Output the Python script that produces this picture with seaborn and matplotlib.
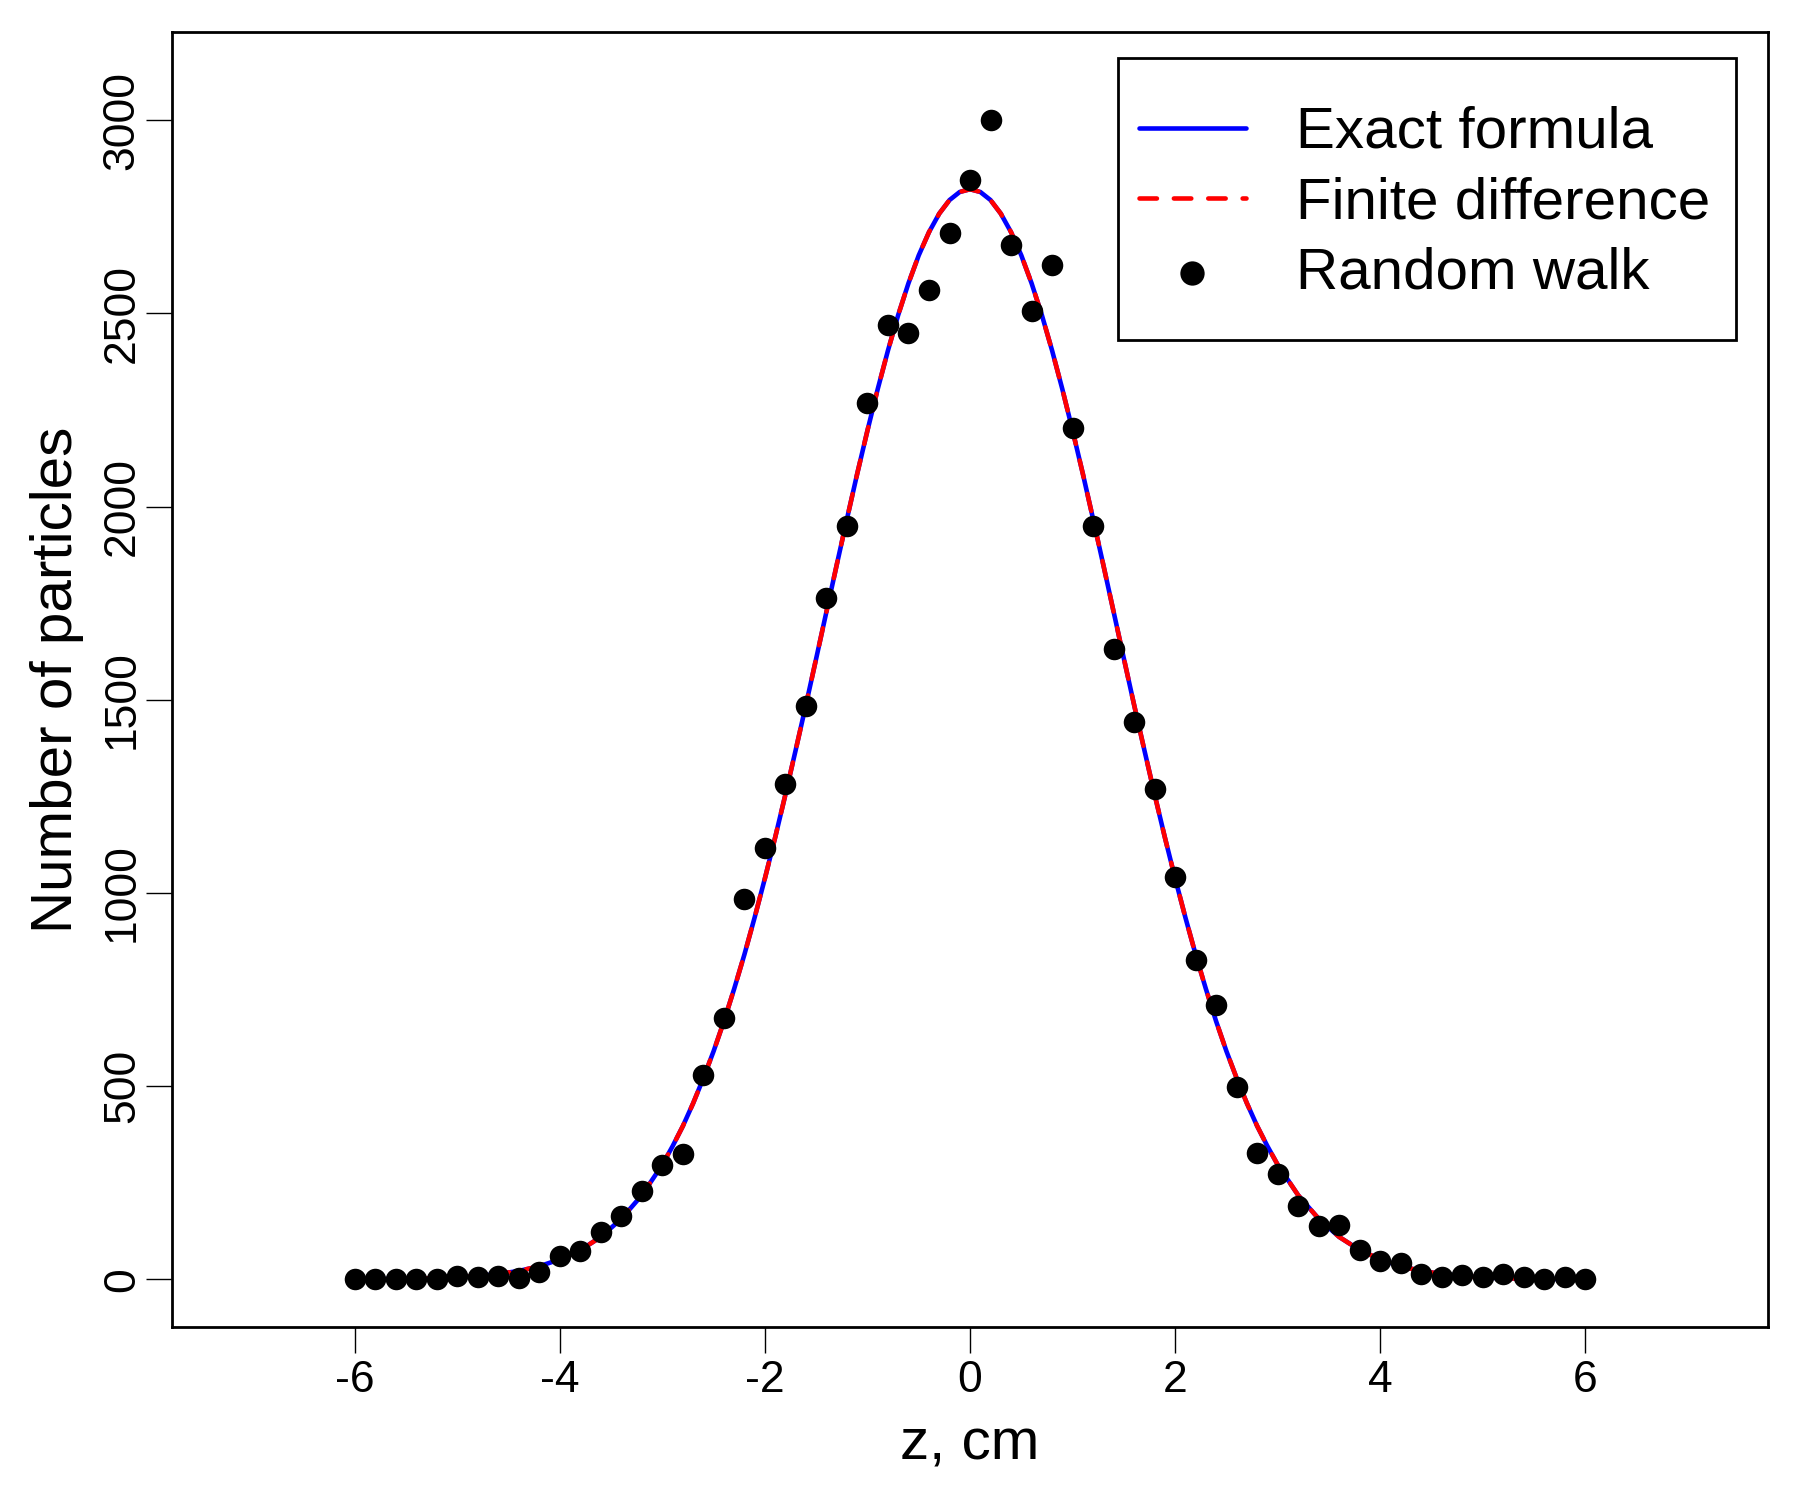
import matplotlib
matplotlib.use("Agg")
import matplotlib.pyplot as plt
import matplotlib.patches as mpatches
import seaborn as sns
import pandas as pd

# ---- data ----
walk_z = [-6.0, -5.8, -5.6, -5.4, -5.2, -5.0, -4.8, -4.6, -4.4, -4.2, -4.0,
          -3.8, -3.6, -3.4, -3.2, -3.0, -2.8, -2.6, -2.4, -2.2, -2.0,
          -1.8, -1.6, -1.4, -1.2, -1.0, -0.8, -0.6, -0.4, -0.2, 0.0,
          0.2, 0.4, 0.6, 0.8, 1.0, 1.2, 1.4, 1.6, 1.8, 2.0,
          2.2, 2.4, 2.6, 2.8, 3.0, 3.2, 3.4, 3.6, 3.8, 4.0,
          4.2, 4.4, 4.6, 4.8, 5.0, 5.2, 5.4, 5.6, 5.8, 6.0]
walk_n = [0, 0, 0, 0, 0, 9, 5, 9, 3, 18, 60,
          74, 122, 164, 229, 295, 324, 530, 676, 985, 1116,
          1283, 1485, 1762, 1949, 2268, 2470, 2449, 2559, 2708, 2845,
          3000, 2678, 2506, 2625, 2202, 1949, 1631, 1443, 1268, 1042,
          827, 711, 497, 327, 274, 190, 137, 140, 77, 48,
          42, 15, 6, 12, 6, 15, 6, 0, 6, 0]

curve_z = [-6.0, -5.8, -5.6, -5.4, -5.2, -5.0, -4.8, -4.6, -4.4, -4.2, -4.0,
           -3.8, -3.6, -3.4, -3.2, -3.0, -2.9, -2.8, -2.7, -2.6, -2.5, -2.4,
           -2.3, -2.2, -2.1, -2.0, -1.9, -1.8, -1.7, -1.6, -1.5, -1.4, -1.3,
           -1.2, -1.1, -1.0, -0.9, -0.8, -0.7, -0.6, -0.5, -0.4, -0.3, -0.2,
           -0.1, 0.0, 0.1, 0.2, 0.3, 0.4, 0.5, 0.6, 0.7, 0.8, 0.9, 1.0,
           1.1, 1.2, 1.3, 1.4, 1.5, 1.6, 1.7, 1.8, 1.9, 2.0, 2.1, 2.2,
           2.3, 2.4, 2.5, 2.6, 2.7, 2.8, 2.9, 3.0, 3.2, 3.4, 3.6, 3.8,
           4.0, 4.2, 4.4, 4.6, 4.8, 5.0, 5.2, 5.4, 5.6, 5.8, 6.0]
exact_n = [0, 1, 1, 2, 3, 5, 9, 14, 22, 34, 52,
           76, 110, 157, 218, 297, 345, 397, 456, 521, 591, 668,
           752, 841, 937, 1038, 1144, 1255, 1370, 1487, 1607, 1728, 1849,
           1968, 2085, 2197, 2304, 2404, 2496, 2578, 2650, 2710, 2758, 2793,
           2814, 2821, 2814, 2793, 2758, 2710, 2650, 2578, 2496, 2404, 2304, 2197,
           2085, 1968, 1849, 1728, 1607, 1487, 1370, 1255, 1144, 1038, 937, 841,
           752, 668, 591, 521, 456, 397, 345, 297, 218, 157, 110, 76,
           52, 34, 22, 14, 9, 5, 3, 2, 1, 1, 0]
fd_n = list(exact_n)

x_ticks = [-6, -4, -2, 0, 2, 4, 6]
y_ticks = [0, 500, 1000, 1500, 2000, 2500, 3000]

sns.set_theme(style="ticks")
plt.rcParams['font.family'] = ['Liberation Sans', 'DejaVu Sans']
plt.rcParams.update({"text.color": "black", "axes.labelcolor": "black",
                     "xtick.color": "black", "ytick.color": "black",
                     "axes.edgecolor": "black"})

fig = plt.figure(figsize=(18, 15), dpi=100)
ax = fig.add_axes([0.0957, 0.1151, 0.9821 - 0.0957, 0.9787 - 0.1151])

df_curve = pd.DataFrame({"z": curve_z, "exact": exact_n, "fd": fd_n})
df_walk = pd.DataFrame({"z": walk_z, "n": walk_n})

LW = 3.3
sns.lineplot(data=df_curve, x="z", y="exact", ax=ax, color="blue", linewidth=LW,
             solid_capstyle="round", solid_joinstyle="round",
             label="Exact formula", sort=False)
sns.lineplot(data=df_curve, x="z", y="fd", ax=ax, color="red", linewidth=LW,
             linestyle=(0, (3.8, 3.7)), dash_capstyle="round",
             label="Finite difference", sort=False)
sns.scatterplot(data=df_walk, x="z", y="n", ax=ax, color="black", s=15.5**2,
                linewidth=0, label="Random walk", zorder=5)

ax.set_xlim(-7.78, 7.78)
ax.set_ylim(-124, 3228)
ax.set_xticks(x_ticks)
ax.set_xticklabels([str(v) for v in x_ticks])
ax.set_yticks(y_ticks)
ax.set_yticklabels([str(v) for v in y_ticks], rotation=90, va="center")

for sp in ax.spines.values():
    sp.set_visible(True)
    sp.set_linewidth(2.0)
    sp.set_color("black")

ax.tick_params(axis="both", direction="out", length=18.7, width=1.0,
               labelsize=32, colors="black")
ax.tick_params(axis="x", pad=5.0)
ax.tick_params(axis="y", pad=2.5)

ax.set_xlabel("z, cm", fontsize=42, labelpad=12)
ax.set_ylabel("Number of particles", fontsize=42, labelpad=12.7)

# legend (frame drawn separately to match the box proportions)
leg = ax.legend(loc="upper left", bbox_to_anchor=(0.6058, 0.9429), borderaxespad=0,
                borderpad=0, fontsize=42, frameon=False,
                handlelength=1.83, handletextpad=0.87, labelspacing=0.28)
for h in leg.legend_handles:
    if isinstance(h, matplotlib.collections.PathCollection):
        h.set_sizes([17.5**2])
frame = mpatches.Rectangle((0.5925, 0.7619), 0.980 - 0.5925, 0.9797 - 0.7619,
                           transform=ax.transAxes, fill=True, facecolor="white",
                           edgecolor="black", linewidth=2.0, zorder=6)
ax.add_patch(frame)
leg.set_zorder(7)

fig.savefig("out.png", dpi=100, facecolor="white")
